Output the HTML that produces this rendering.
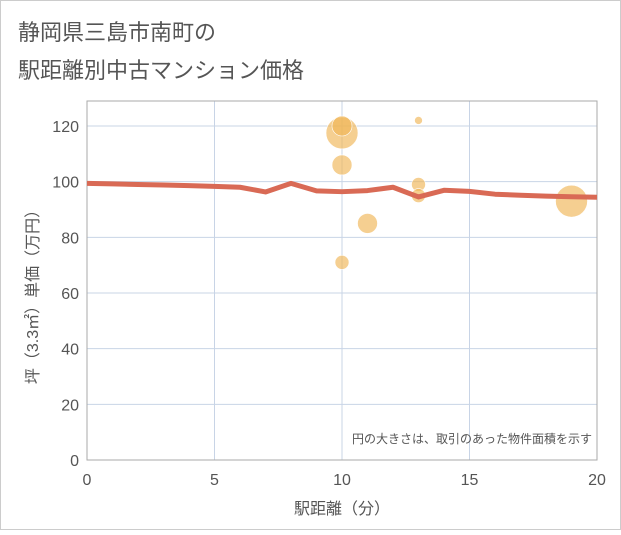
<!DOCTYPE html>
<html><head><meta charset="utf-8"><style>
body{margin:0;background:#fff}
svg text{font-family:"Liberation Sans","Noto Sans CJK JP",sans-serif}
</style></head><body>
<svg id="c" width="621" height="530" xmlns="http://www.w3.org/2000/svg">
<rect x="0.5" y="0.5" width="620" height="529" fill="#fff" stroke="#ccc"/>
<text x="18" y="40" font-size="22" fill="#555">静岡県三島市南町の</text>
<text x="18" y="78" font-size="22" fill="#555">駅距離別中古マンション価格</text>
<g id="grid"></g>
<g id="bubbles"></g>
<g id="line"></g>
<g id="ticks"></g>
<text x="592" y="443" font-size="12" fill="#555" text-anchor="end">円の大きさは、取引のあった物件面積を示す</text>
<text x="342" y="514" font-size="16" fill="#555" text-anchor="middle">駅距離（分）</text>
<text transform="translate(38,293) rotate(-90)" font-size="16" fill="#555" text-anchor="middle">坪（3.3㎡）単価（万円）</text>
</svg>
<script>
const xTicks=[0,5,10,15,20];
const yTicks=[0,20,40,60,80,100,120];
const lineX=[0,1,2,3,4,5,6,7,8,9,10,11,12,13,14,15,16,17,18,19,20];
const lineY=[99.4,99.2,99,98.8,98.6,98.3,98,96.3,99.4,96.7,96.4,96.8,98,94.5,96.9,96.5,95.5,95.1,94.8,94.6,94.4];
const bubX=[10,10,10,10,11,13,13,13,19];
const bubY=[117.5,120,106,71,85,122,99,95,93];
const bubR=[16,10,10,7,10,4,7,7,16];
const L=87,R=597,T=101,B=460;
const xs=v=>L+(R-L)*v/20;
const ys=v=>B-(B-126)*v/120;
const NS="http://www.w3.org/2000/svg";
function mk(tag,attrs,parent){const e=document.createElementNS(NS,tag);for(const k in attrs)e.setAttribute(k,attrs[k]);document.getElementById(parent).appendChild(e);return e;}
xTicks.forEach(t=>{
 const g=mk('line',{x1:xs(t),x2:xs(t),y1:T,y2:B,stroke:'#c8d4e6','stroke-width':1},'grid');
 
 
 const tx=mk('text',{x:xs(t),y:B+25,'font-size':16,fill:'#555','text-anchor':'middle'},'ticks');
 tx.textContent=t;
 
 
});
yTicks.forEach(t=>{
 const g=mk('line',{x1:L,x2:R,y1:ys(t),y2:ys(t),stroke:'#c8d4e6','stroke-width':1},'grid');
 
 
 const tx=mk('text',{x:L-8,y:ys(t)+6,'font-size':16,fill:'#555','text-anchor':'end'},'ticks');
 tx.textContent=t;
 
 
});
const fr=mk('rect',{x:L,y:T,width:R-L,height:B-T,fill:'none',stroke:'#aaa','stroke-width':1},'grid');


bubX.forEach((x,i)=>{
 const c=mk('circle',{cx:xs(x),cy:ys(bubY[i]),r:bubR[i],fill:'#f0b556','fill-opacity':0.65,stroke:'#fff','stroke-width':0.6},'bubbles');
 
 
});
const p=mk('polyline',{points:lineX.map((x,i)=>xs(x)+','+ys(lineY[i])).join(' '),fill:'none',stroke:'#d96a55','stroke-width':5,'stroke-linejoin':'round'},'line');


</script>
</body></html>
